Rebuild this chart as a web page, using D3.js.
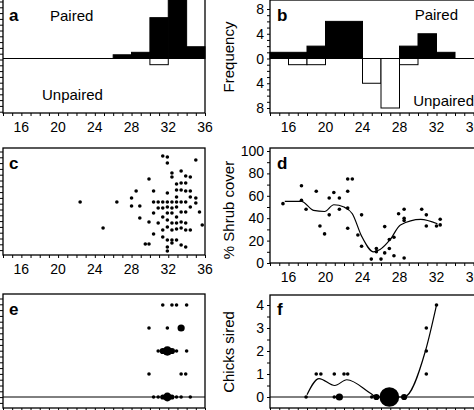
<!DOCTYPE html>
<html><head><meta charset="utf-8">
<script src="https://cdn.jsdelivr.net/npm/d3@7"></script>
<style>body{margin:0;background:#fff}text{font-family:"Liberation Sans",Arial,sans-serif}</style>
</head><body><svg id="c" width="474" height="410"></svg>
<script>
const xTicks=[16,20,24,28,32,36];
const aPaired=[[26,28,0.6],[28,30,1],[30,32,6.6],[32,34,10],[34,36,1.9]];
const aUnpaired=[[30,32,1]];
const bPaired=[[14,18,1],[18,20,2],[20,24,6],[28,30,2],[30,32,4],[32,34,1]];
const bUnpaired=[[16,18,1],[18,20,1],[24,26,4],[26,28,8],[28,30,1]];
const cPoints=[[22.4,53],[24.9,27],[26.4,53],[28.0,57],[28.0,49],[28.5,64],[28.9,49],[28.9,37],[29.5,11],[29.9,11],[29.9,76],[29.9,33],[30.4,64],[30.4,53],[30.4,42],[30.4,21],[30.9,53],[30.9,47],[30.9,32],[31.4,99],[31.4,53],[31.4,47],[31.4,38],[31.4,25],[31.4,18],[31.9,98],[31.9,92],[31.9,62],[31.9,53],[31.9,48],[31.9,42],[31.9,35],[31.9,28],[31.9,15],[31.9,8],[31.9,4],[32.4,82],[32.4,78],[32.4,53],[32.4,47],[32.4,42],[32.4,32],[32.4,25],[32.4,15],[32.4,12],[32.9,71],[32.9,65],[32.9,58],[32.9,53],[32.9,48],[32.9,38],[32.9,32],[32.9,26],[32.9,15],[33.4,84],[33.4,72],[33.4,65],[33.4,53],[33.4,43],[33.4,33],[33.4,27],[33.4,10],[33.9,79],[33.9,72],[33.9,64],[33.9,53],[33.9,43],[33.9,32],[33.9,25],[33.9,8],[34.4,78],[34.4,64],[34.4,58],[34.4,48],[34.4,25],[35.0,95],[35.0,57],[35.0,52],[35.4,43],[35.7,30]];
const dPoints=[[15.4,53],[17.4,69],[17.4,56],[17.9,48],[19.0,64],[19.4,33],[19.9,26],[20.4,58],[20.4,43],[20.9,63],[21.5,58],[21.5,48],[22.4,75],[22.9,75],[22.4,64],[22.4,49],[22.4,31],[23.5,25],[23.9,43],[23.9,15],[24.95,3.5],[25.5,13],[25.5,10],[26.0,3.5],[26.4,32.5],[26.4,9],[26.9,13],[26.9,21],[27.4,23],[27.4,6.5],[27.9,44],[28.5,48],[28.5,40],[28.5,38],[28.5,4.5],[30.4,48],[30.9,43],[30.9,33],[32.0,33],[32.4,39],[32.4,34]];
const dCurve=[[15.6,55],[17.4,55],[18.7,47],[19.9,46],[20.9,52],[22,50],[22.9,44],[23.9,24],[25.2,10],[25.9,12],[27,21],[28.1,34],[30.3,39],[32.1,35]];
const ePoints=[[31.4,4,1],[32.4,4,1],[32.9,4,1],[34.0,4,1],[29.9,3,1],[31.9,3,1],[33.4,3,4],[30.9,2,1],[31.4,2,3],[31.9,2,7],[32.4,2,3],[32.9,2,1],[34.0,2,1],[29.9,1,1],[33.4,1,1],[33.9,1,1],[30.4,0,1],[30.9,0,1],[31.4,0,2],[31.9,0,6],[32.4,0,2],[32.9,0,1],[33.4,0,1],[34.4,0,1]];
const fPoints=[[17.9,0,1],[19.0,1,1],[19.5,1,1],[20.95,1,1],[20.95,0,1],[21.5,0,4],[22.0,1,1],[22.4,1,1],[25.0,0,1],[25.5,0,3],[26.9,0,30],[28.5,0,3],[30.9,3,1],[30.9,2,1],[30.9,1,1],[32.0,4,1]];
const fCurve=[[18,0.1],[19.3,0.8],[21,0.5],[22.3,0.75],[24.9,0.15],[25.5,0],[28.5,0],[30.8,2],[32,4]];

const svg=d3.select("#c");
const xL=d3.scaleLinear().domain([14,36]).range([3,205]);
const xR=d3.scaleLinear().domain([14,36]).range([270,473.5]);
const yAB=d3.scaleLinear().domain([-8,8]).range([108,9]);
const yC=d3.scaleLinear().domain([0,107]).range([255,148]);
const yD=d3.scaleLinear().domain([0,100]).range([263,151]);
const yEF=d3.scaleLinear().domain([0,4]).range([397,305]);

function frame(x0,x1,y0,y1){svg.append("rect").attr("x",x0).attr("y",y0).attr("width",x1-x0).attr("height",y1-y0).attr("fill","none").attr("stroke","#000").attr("stroke-width",1.3);}
function xAxis(x,y,labels){
  const g=svg.append("g").attr("transform",`translate(0,${y})`);
  const ax=d3.axisBottom(x).tickValues(d3.range(14,37,1)).tickSize(3).tickFormat("");
  g.call(ax);g.select(".domain").remove();
  g.selectAll("line").attr("stroke","#000");
  if(labels){g.selectAll("text.lab").data(xTicks).join("text").attr("class","lab").attr("fill","#000").attr("font-family","Liberation Sans, Arial, sans-serif").attr("x",d=>x(d)).attr("y",19).attr("text-anchor","middle").attr("font-size",14).text(d=>d);}
}
function leftTicks(y0,y1){for(let y=y0;y<y1;y+=5.8){svg.append("line").attr("x1",0).attr("x2",3).attr("y1",y).attr("y2",y).attr("stroke","#000");}}
function letter(x,y,t){svg.append("text").attr("x",x).attr("y",y).attr("font-size",17).attr("font-weight","bold").text(t);}
function label(x,y,t,anchor){svg.append("text").attr("x",x).attr("y",y).attr("font-size",15).attr("text-anchor",anchor||"start").text(t);}
function rot(x,y,t){svg.append("text").attr("transform",`translate(${x},${y}) rotate(-90)`).attr("font-size",15).attr("text-anchor","middle").text(t);}
function bars(x,data,sign,fill){svg.append("g").selectAll("rect").data(data).join("rect")
  .attr("x",d=>x(d[0])).attr("width",d=>x(d[1])-x(d[0]))
  .attr("y",d=>sign>0?yAB(d[2]):yAB(0)).attr("height",d=>Math.abs(yAB(d[2])-yAB(0)))
  .attr("fill",fill).attr("stroke","#000").attr("stroke-width",1);}
function yAxisR(y,vals,minor,fmt){
  const g=svg.append("g").attr("transform","translate(270,0)");
  g.call(d3.axisLeft(y).tickValues(minor).tickSize(3).tickFormat(""));g.select(".domain").remove();
  g.selectAll("line").attr("stroke","#000");
  g.selectAll("text.lab").data(vals).join("text").attr("class","lab").attr("fill","#000").attr("font-family","Liberation Sans, Arial, sans-serif").attr("x",-6).attr("y",d=>y(d)+5).attr("text-anchor","end").attr("font-size",14).text(fmt);
}
const curve=(x,y,pts)=>svg.append("path").attr("d",d3.line().x(d=>x(d[0])).y(d=>y(d[1])).curve(d3.curveMonotoneX)(pts)).attr("fill","none").attr("stroke","#000").attr("stroke-width",1.2);

// panel a
bars(xL,aPaired,1,"#000");bars(xL,aUnpaired.map(d=>[d[0],d[1],-d[2]]),-1,"#fff");
svg.append("line").attr("x1",3).attr("x2",205).attr("y1",yAB(0)).attr("y2",yAB(0)).attr("stroke","#000");
frame(3,205,-3,113);xAxis(xL,113,true);leftTicks(2,113);
letter(9,21,"a");label(50,21,"Paired");label(42,100,"Unpaired");
// panel b
bars(xR,bPaired,1,"#000");bars(xR,bUnpaired.map(d=>[d[0],d[1],-d[2]]),-1,"#fff");
svg.append("line").attr("x1",270).attr("x2",474).attr("y1",yAB(0)).attr("y2",yAB(0)).attr("stroke","#000");
frame(270,477,0,113);xAxis(xR,113,true);
yAxisR(yAB,[8,4,0,-4,-8],d3.range(-8,9,1),d=>Math.abs(d));
letter(277,21,"b");label(458,20,"Paired","end");label(474,106,"Unpaired","end");
rot(234,57,"Frequency");
// panel c
frame(3,205,148,255);xAxis(xL,255,true);leftTicks(152,255);letter(9,169,"c");
svg.append("g").selectAll("circle").data(cPoints).join("circle").attr("cx",d=>xL(d[0])).attr("cy",d=>yC(d[1])).attr("r",1.8).attr("fill","#000");
// panel d
frame(270,477,148,263);xAxis(xR,263,true);
yAxisR(yD,[0,20,40,60,80,100],d3.range(0,101,10),d=>d);
letter(277,169,"d");rot(234,210,"% Shrub cover");
svg.append("g").selectAll("circle").data(dPoints).join("circle").attr("cx",d=>xR(d[0])).attr("cy",d=>yD(d[1])).attr("r",1.8).attr("fill","#000");
curve(xR,yD,dCurve);
// panel e
svg.append("line").attr("x1",3).attr("x2",205).attr("y1",yEF(0)).attr("y2",yEF(0)).attr("stroke","#000");
frame(3,205,294,408);xAxis(xL,408,false);leftTicks(299,408);letter(9,315,"e");
svg.append("g").selectAll("circle").data(ePoints).join("circle").attr("cx",d=>xL(d[0])).attr("cy",d=>yEF(d[1])).attr("r",d=>1.8*Math.sqrt(d[2])).attr("fill","#000");
// panel f
svg.append("line").attr("x1",270).attr("x2",474).attr("y1",yEF(0)).attr("y2",yEF(0)).attr("stroke","#000");
frame(270,477,295,408);xAxis(xR,408,false);
yAxisR(yEF,[0,1,2,3,4],d3.range(0,4.01,0.5),d=>d);
letter(277,315,"f");rot(234,352,"Chicks sired");
svg.append("g").selectAll("circle").data(fPoints).join("circle").attr("cx",d=>xR(d[0])).attr("cy",d=>yEF(d[1])).attr("r",d=>1.8*Math.sqrt(d[2])).attr("fill","#000");
curve(xR,yEF,fCurve);
</script></body></html>
